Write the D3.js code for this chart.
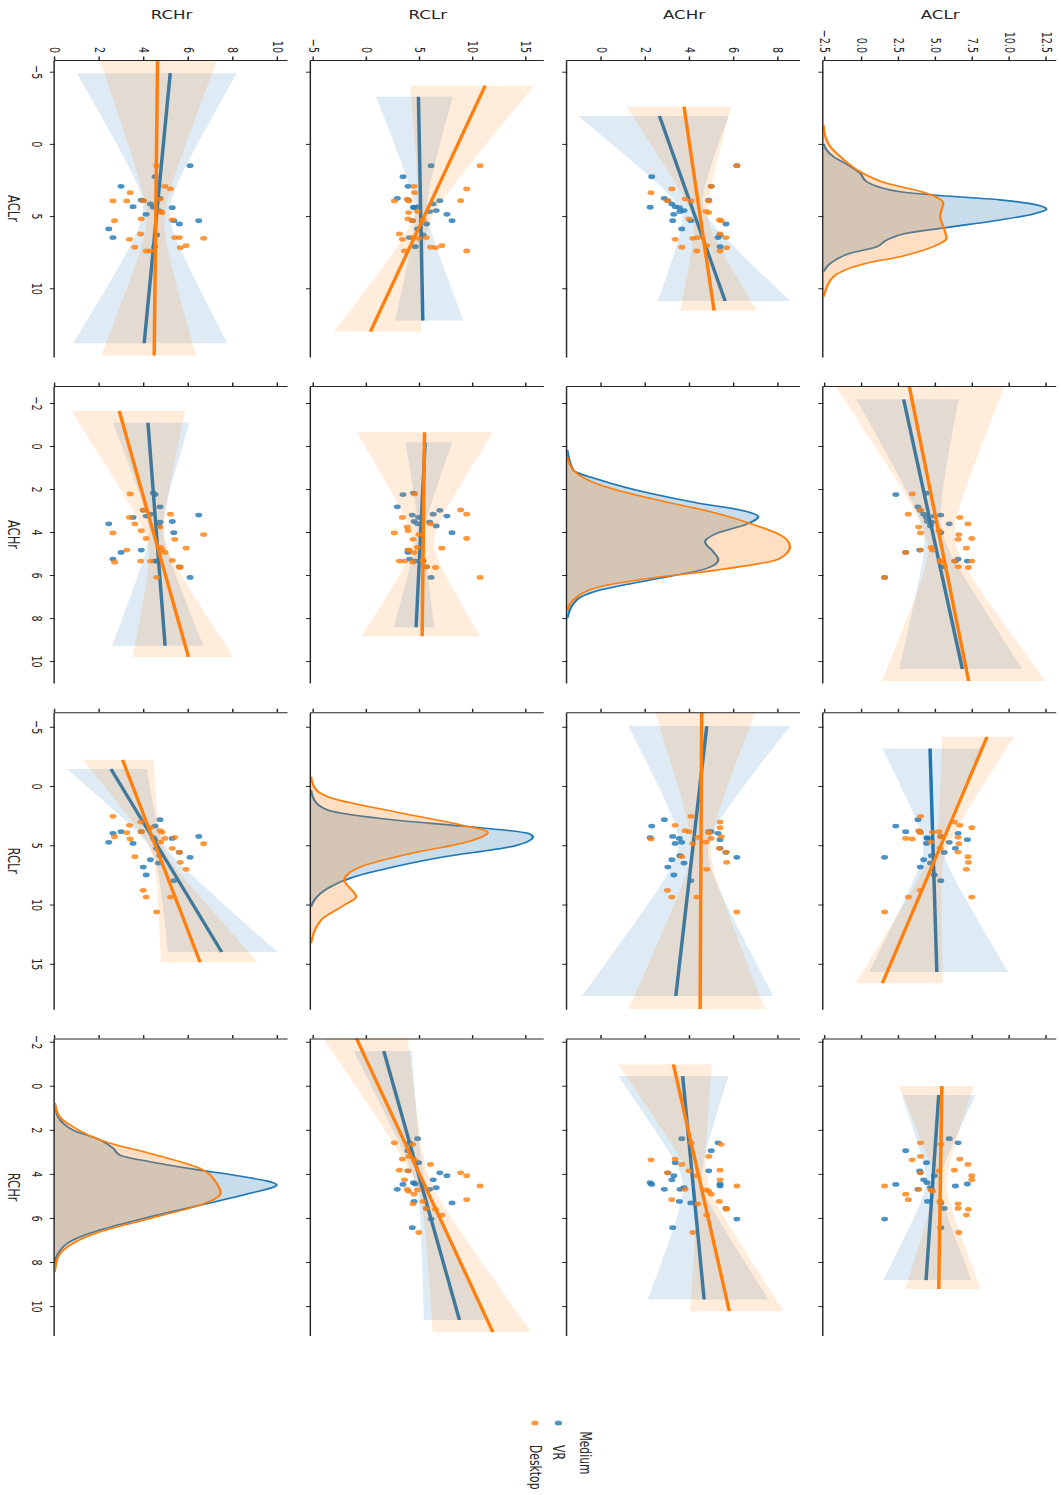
<!DOCTYPE html>
<html><head><meta charset="utf-8">
<script src="https://cdn.jsdelivr.net/npm/d3@7"></script>
<style>
body{margin:0;background:#fff}
text{font-family:"DejaVu Sans",sans-serif;fill:#262626}
</style>
</head><body>
<svg id="c" width="1061" height="1495"></svg>
<script>
// ---------------- DATA ----------------
const variables = ["ACLr","ACHr","RCLr","RCHr"];
const hues = ["VR","Desktop"];
const hueColors = ["#1f77b4","#ff7f0e"];
const legendTitle = "Medium";

// VR observations
const vrACLr = [4.39,2.27,3.77,3.93,4.16,5.32,4.88,4.35,4.42,4.69,5.89,4.62,5.32,3.89,2.94,6.49,7.12,6.31,5.55,1.51];
const vrACHr = [2.19,2.26,2.83,2.99,3.17,3.21,3.26,3.32,3.51,3.54,3.62,3.72,4.03,4.84,4.95,5.26,5.35,5.35,5.62,6.11];
const vrRCLr = [4.36,3.38,2.84,6.84,6.22,4.25,7.51,4.84,4.42,5.88,4.75,6.5,7.99,3.85,3.85,3.99,4.53,5.26,5.6,6.02];
const vrRCHr = [4.40,4.48,4.70,3.95,4.27,6.44,4.08,3.49,5.25,4.70,2.40,4.63,5.32,3.86,2.95,2.59,4.46,4.55,5.57,6.05];
// Desktop observations
const dtACLr = [3.38,3.93,3.12,6.61,7.16,3.82,5.2,3.95,6.54,7.42,6.49,4.67,7.05,3.95,4.76,2.94,5.27,6.24,7.42,5.32,6.49,7.19,1.51];
const dtACHr = [2.23,2.97,3.17,3.32,3.62,3.77,3.94,4.04,4.12,4.30,4.34,4.72,4.75,4.84,4.84,4.95,5.32,5.35,5.35,5.40,5.62,5.65,6.11];
const dtRCLr = [4.47,8.80,9.37,3.32,5.96,3.77,3.85,2.56,4.87,9.37,4.33,4.73,7.03,3.94,3.91,4.42,5.26,3.04,3.52,4.28,5.57,6.44,10.63];
const dtRCHr = [3.36,3.95,5.17,3.33,3.57,4.70,3.86,2.59,6.66,4.08,5.36,4.73,5.87,3.21,4.79,4.92,5.25,3.83,4.27,2.66,5.57,5.61,4.55];

// KDE curves on the diagonal: [value, height as fraction of panel]
const kdeACLrVR = [[0.0,0],[0.4,0.012],[0.89,0.043],[1.5,0.11],[2.04,0.157],[2.62,0.185],[3.0,0.24],[3.31,0.328],[3.54,0.47],[3.88,0.755],[4.25,0.92],[4.53,0.955],[4.85,0.9],[5.27,0.755],[5.85,0.5],[6.19,0.356],[6.66,0.27],[7.12,0.228],[7.58,0.114],[8.27,0.03],[8.85,0]];
const kdeACLrDesktop = [[-1.3,0],[-0.5,0.008],[0.19,0.029],[1.0,0.08],[1.93,0.157],[2.73,0.27],[3.38,0.435],[4.11,0.513],[4.6,0.505],[5.04,0.50],[5.8,0.515],[6.54,0.527],[7.12,0.47],[7.81,0.328],[8.27,0.185],[9.2,0.043],[10.24,0.007],[10.6,0]];
const kdeACHrVR = [[0.19,0],[1.12,0.026],[1.58,0.14],[2.2,0.354],[2.67,0.569],[2.98,0.74],[3.29,0.818],[3.63,0.769],[4.06,0.64],[4.45,0.59],[4.92,0.626],[5.3,0.647],[5.69,0.597],[6.23,0.354],[6.7,0.14],[7.16,0.04],[8.0,0]];
const kdeACHrDesktop = [[0.5,0],[1.12,0.026],[1.81,0.14],[2.43,0.354],[3.13,0.64],[3.6,0.783],[4.22,0.925],[4.68,0.954],[5.22,0.911],[5.77,0.64],[6.15,0.354],[6.54,0.14],[7.16,0.026],[7.63,0]];
const kdeRCLrVR = [[0.34,0],[1.18,0.014],[2.03,0.071],[2.87,0.357],[3.38,0.643],[3.99,0.928],[4.28,0.95],[5.12,0.857],[5.97,0.571],[6.81,0.357],[7.65,0.186],[8.63,0.071],[9.62,0.014],[10.19,0]];
const kdeRCLrDesktop = [[-0.79,0],[0.11,0.014],[0.9,0.071],[2.17,0.357],[3.29,0.643],[3.9,0.757],[4.7,0.671],[5.68,0.429],[6.81,0.214],[7.93,0.143],[9.34,0.193],[10.04,0.143],[11.31,0.043],[13.27,0]];
const kdeRCHrVR = [[0.8,0],[1.41,0.014],[2.01,0.078],[2.46,0.193],[2.84,0.25],[3.15,0.279],[3.45,0.407],[3.83,0.621],[4.05,0.764],[4.51,0.95],[4.88,0.836],[5.42,0.621],[5.95,0.407],[6.55,0.193],[7.0,0.078],[7.61,0.014],[8.06,0]];
const kdeRCHrDesktop = [[0.8,0],[1.41,0.021],[1.86,0.078],[2.61,0.236],[3.07,0.407],[3.75,0.621],[4.43,0.693],[4.88,0.71],[5.42,0.621],[6.02,0.407],[6.63,0.193],[7.15,0.078],[7.76,0.014],[8.44,0]];

// Regression panels [row (y) variable, column (x) variable]
const regPanels = [["ACLr","ACHr"],["ACLr","RCLr"],["ACLr","RCHr"],["ACHr","ACLr"],["ACHr","RCLr"],["ACHr","RCHr"],
                   ["RCLr","ACLr"],["RCLr","ACHr"],["RCLr","RCHr"],["RCHr","ACLr"],["RCHr","ACHr"],["RCHr","RCLr"]];
// fitted lines [x0, y0, x1, y1]
const regLineVR = [[-2.17,2.80,10.37,6.78],[-3.16,4.59,15.69,5.05],[0.42,5.18,8.82,4.32],[-1.93,2.61,10.88,5.58],[-5.06,4.75,17.72,3.35],[-0.44,3.66,9.70,4.63],
                   [-3.27,4.83,12.24,5.24],[-0.17,5.46,8.43,4.61],[-1.58,1.57,10.63,8.69],[-4.9,5.16,13.81,3.99],[-1.08,4.16,9.29,4.93],[-1.43,2.50,14.01,7.47]];
const regLineDesktop = [[-2.79,3.18,10.93,7.21],[-4.15,8.45,16.64,1.36],[0.01,5.39,9.23,5.18],[-2.58,3.72,11.55,5.08],[-6.22,4.52,18.84,4.45],[-0.97,3.24,10.23,5.77],
                   [-4.03,11.11,13.0,0.31],[-0.64,5.40,8.85,5.18],[-2.19,-1.04,11.18,11.83],[-5.74,4.59,14.65,4.44],[-1.63,2.87,9.81,5.98],[-2.21,3.02,14.87,6.50]];
// confidence bands [low at x0, high at x0, low at x1, high at x1]
const regBandVR = [[-0.41,6.52,2.5,10.84],[1.36,8.07,0.46,9.88],[2.68,7.68,1.43,7.39],[-1.06,5.73,2.53,8.52],[1.2,8.52,-0.9,7.76],[0.75,5.73,2.08,7.54],
                   [0.85,8.06,2.64,9.07],[3.61,8.0,2.5,6.34],[-1.26,4.2,5.33,11.2],[0.97,8.15,0.79,7.73],[2.59,6.02,2.54,6.65],[0.52,4.11,5.05,9.97]];
const regBandDesktop = [[-1.81,9.66,1.32,12.43],[5.41,10.29,-0.45,5.45],[2.5,7.55,2.91,8.02],[1.13,5.85,3.54,7.01],[2.41,6.94,1.2,7.39],[0.75,4.98,4.0,8.22],
                   [4.05,15.69,-3.14,5.08],[-0.98,11.83,-0.51,10.64],[-4.18,3.82,6.18,15.44],[2.02,7.25,2.06,6.32],[0.72,5.83,3.48,8.0],[1.24,4.41,4.74,9.09]];

// axis domains and ticks
const colDomains = [[-5.81,14.76],[-2.79,11.02],[-6.22,18.84],[-2.14,11.34]];
const rowDomains = [[-2.63,13.19],[-1.56,9.0],[-5.27,16.69],[-0.02,10.46]];
const colTicks = [[-5,0,5,10],[-2,0,2,4,6,8,10],[-5,0,5,10,15],[-2,0,2,4,6,8,10]];
const rowTicks = [[-2.5,0,2.5,5,7.5,10,12.5],[0,2,4,6,8],[-5,0,5,10,15],[0,2,4,6,8,10]];
const rowTickFormats = [".1f","d","d","d"];

// ---------------- DRAW ----------------
const obs = {
  VR: {ACLr: vrACLr, ACHr: vrACHr, RCLr: vrRCLr, RCHr: vrRCHr},
  Desktop: {ACLr: dtACLr, ACHr: dtACHr, RCLr: dtRCLr, RCHr: dtRCHr}
};
const kdes = {
  VR: {ACLr: kdeACLrVR, ACHr: kdeACHrVR, RCLr: kdeRCLrVR, RCHr: kdeRCHrVR},
  Desktop: {ACLr: kdeACLrDesktop, ACHr: kdeACHrDesktop, RCLr: kdeRCLrDesktop, RCHr: kdeRCHrDesktop}
};
const regLines = {VR: regLineVR, Desktop: regLineDesktop};
const regBands = {VR: regBandVR, Desktop: regBandDesktop};

const S = 1.45; // figure is stretched along the page's horizontal axis
const svg = d3.select("#c");
const defs = svg.append("defs");
// original (unrotated) figure drawn, then rotated 90° clockwise
const g = svg.append("g").attr("transform", `matrix(0,1,${-S},0,1061,0)`);

const colLeft = [60, 386, 712.3, 1038.6], panelW = 297;
const rowTop = [2.8, 179.5, 356.2, 532.9], panelH = 161;
const axisColor = "#262626";

function bandPath(xs, ys, line, band, xm) {
  const [x0,y0,x1,y1] = line;
  const [lo0,hi0,lo1,hi1] = band;
  const lineAt = x => y0 + (y1 - y0) * (x - x0) / (x1 - x0);
  const U0 = hi0 - y0, U1 = hi1 - y1, L0 = y0 - lo0, L1 = y1 - lo1;
  const wU = 0.17 * (U0 + U1) / 2, wL = 0.17 * (L0 + L1) / 2;
  const m = Math.min(Math.max(xm, x0 + 0.05*(x1-x0)), x1 - 0.05*(x1-x0));
  const off = (x, w, e0, e1) => {
    const e = x < m ? Math.max(e0, w*1.01) : Math.max(e1, w*1.01);
    const span = x < m ? (m - x0) : (x1 - m);
    const s2 = (e*e - w*w) / (span*span);
    return Math.sqrt(w*w + s2 * (x - m) * (x - m));
  };
  const n = 80;
  const xsamp = d3.range(n + 1).map(k => x0 + (x1 - x0) * k / n);
  const upper = xsamp.map(x => [xs(x), ys(lineAt(x) + off(x, wU, U0, U1))]);
  const lower = xsamp.map(x => [xs(x), ys(lineAt(x) - off(x, wL, L0, L1))]).reverse();
  return "M" + upper.concat(lower).map(p => p.join(",")).join("L") + "Z";
}

variables.forEach((rowVar, i) => {
  variables.forEach((colVar, j) => {
    const xs = d3.scaleLinear().domain(colDomains[j]).range([colLeft[j], colLeft[j] + panelW]);
    const ys = d3.scaleLinear().domain(rowDomains[i]).range([rowTop[i] + panelH, rowTop[i]]);
    const pg = g.append("g");
    const cid = `clip${i}${j}`;
    defs.append("clipPath").attr("id", cid).append("rect")
      .attr("x", colLeft[j]).attr("y", rowTop[i]).attr("width", panelW).attr("height", panelH);
    const content = pg.append("g").attr("clip-path", `url(#${cid})`);

    if (i === j) {
      const yd = d3.scaleLinear().domain([0, 1]).range([rowTop[i] + panelH, rowTop[i]]);
      hues.forEach((h, hi) => {
        const pts = kdes[h][colVar];
        const area = d3.area().x(d => xs(d[0])).y0(yd(0)).y1(d => yd(d[1])).curve(d3.curveMonotoneX);
        const line = d3.line().x(d => xs(d[0])).y(d => yd(d[1])).curve(d3.curveMonotoneX);
        content.append("path").attr("d", area(pts)).attr("fill", hueColors[hi]).attr("fill-opacity", 0.25);
        content.append("path").attr("d", line(pts)).attr("fill", "none").attr("stroke", hueColors[hi]).attr("stroke-width", 1.6);
      });
    } else {
      const k = regPanels.findIndex(p => p[0] === rowVar && p[1] === colVar);
      hues.forEach((h, hi) => {
        const xv = obs[h][colVar], yv = obs[h][rowVar];
        content.append("g").selectAll("circle").data(d3.range(xv.length)).join("circle")
          .attr("cx", d => xs(xv[d])).attr("cy", d => ys(yv[d])).attr("r", 2.4)
          .attr("fill", hueColors[hi]).attr("fill-opacity", 0.8);
        const ln = regLines[h][k];
        content.append("path").attr("d", bandPath(xs, ys, ln, regBands[h][k], d3.mean(xv)))
          .attr("fill", hueColors[hi]).attr("fill-opacity", 0.15);
        content.append("line")
          .attr("x1", xs(ln[0])).attr("y1", ys(ln[1])).attr("x2", xs(ln[2])).attr("y2", ys(ln[3]))
          .attr("stroke", hueColors[hi]).attr("stroke-width", 2.4);
      });
    }

    // axes (left & bottom spines only)
    const fmtX = d3.format("d");
    const fmtY = d3.format(rowTickFormats[i]);
    const ax = pg.append("g").attr("transform", `translate(0,${rowTop[i] + panelH})`)
      .call(d3.axisBottom(xs).tickValues(colTicks[j]).tickSize(3.5).tickSizeOuter(0).tickPadding(5.5)
        .tickFormat(i === 3 ? fmtX : () => ""));
    const ay = pg.append("g").attr("transform", `translate(${colLeft[j]},0)`)
      .call(d3.axisLeft(ys).tickValues(rowTicks[i]).tickSize(3.5).tickSizeOuter(0).tickPadding(3.5)
        .tickFormat(j === 0 ? fmtY : () => ""));
    [ax, ay].forEach(a => {
      a.attr("font-family", null).attr("font-size", null);
      a.selectAll("path,line").attr("stroke", axisColor).attr("stroke-width", 1.0);
      a.selectAll("text").attr("font-size", 9.6).attr("fill", axisColor);
    });

    if (j === 0) {
      g.append("text").attr("transform", `translate(18.5,${rowTop[i] + panelH / 2}) rotate(-90)`)
        .attr("text-anchor", "middle").attr("font-size", 11.5).text(rowVar);
    }
    if (i === 3) {
      g.append("text").attr("x", colLeft[j] + panelW / 2).attr("y", 726)
        .attr("text-anchor", "middle").attr("font-size", 11.5).text(colVar);
    }
  });
});

// legend
const lg = g.append("g");
lg.append("text").attr("x", 1453).attr("y", 328.3).attr("dominant-baseline", "central")
  .attr("text-anchor", "middle").attr("font-size", 10.8).text(legendTitle);
const legY = [346.6, 362.8];
hues.forEach((h, hi) => {
  lg.append("circle").attr("cx", 1423).attr("cy", legY[hi]).attr("r", 2.5).attr("fill", hueColors[hi]).attr("fill-opacity", 0.8);
  lg.append("text").attr("x", 1445).attr("y", legY[hi]).attr("dominant-baseline", "central")
    .attr("font-size", 10.8).text(h);
});
</script>
</body></html>
